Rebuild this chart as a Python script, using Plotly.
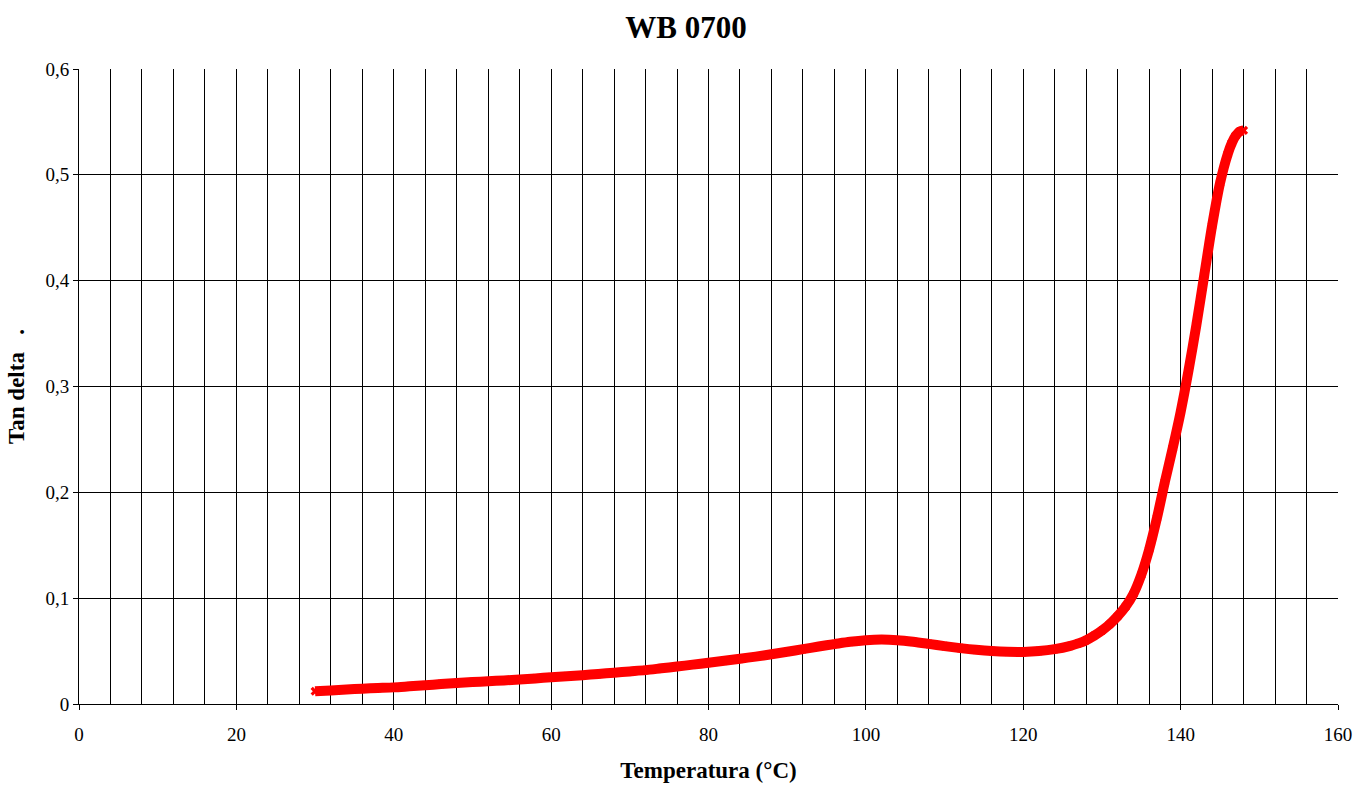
import plotly.graph_objects as go

temperature = [30, 32, 34, 36, 38, 40, 42, 44, 46, 48, 50, 52, 54, 56, 58, 60, 62, 64, 66, 68,
               70, 72, 74, 76, 78, 80, 82, 84, 86, 88, 90, 92, 94, 96, 98, 100, 102, 104, 106,
               108, 110, 112, 114, 116, 118, 120, 122, 124, 126, 127, 128, 129, 130, 131, 132,
               133, 134, 135, 136, 137, 138, 139, 140, 141, 142, 143, 144, 145, 146, 146.5,
               147, 147.5, 148]
tan_delta = [0.0120, 0.0128, 0.0137, 0.0145, 0.0151, 0.0157, 0.0167, 0.0177, 0.0188, 0.0198,
             0.0207, 0.0215, 0.0223, 0.0232, 0.0242, 0.0252, 0.0262, 0.0272, 0.0284, 0.0296,
             0.0308, 0.0320, 0.0337, 0.0354, 0.0372, 0.0390, 0.0408, 0.0428, 0.0448, 0.0470,
             0.0494, 0.0518, 0.0543, 0.0566, 0.0588, 0.0603, 0.0609, 0.0603, 0.0588, 0.0568,
             0.0547, 0.0528, 0.0512, 0.0500, 0.0493, 0.0492, 0.0500, 0.0518, 0.0550, 0.0573,
             0.0603, 0.0645, 0.0695, 0.0755, 0.0830, 0.0920, 0.1040, 0.1220, 0.1460, 0.1760,
             0.2100, 0.2420, 0.2760, 0.3150, 0.3580, 0.4050, 0.4520, 0.4920, 0.5200, 0.5300,
             0.5370, 0.5410, 0.5420]

title_text = "WB 0700"
x_title = "Temperatura (°C)"
y_title = "Tan delta\u00a0\u00a0\u00a0."

fig = go.Figure()
fig.add_trace(go.Scatter(
    x=temperature, y=tan_delta, mode="lines+markers",
    line=dict(color="#ff0000", width=10, shape="spline", smoothing=0.8),
    marker=dict(symbol="x", size=8, color="#ff0000"),
    showlegend=False,
))

serif = "Liberation Serif"
fig.update_layout(
    width=1372, height=785,
    margin=dict(l=79, r=34, t=69, b=81),
    paper_bgcolor="white", plot_bgcolor="white",
    separators=", ",
    font=dict(family=serif, color="black", size=19),
    title=dict(text="<b>" + title_text + "</b>", x=0.5, xanchor="center",
               y=1 - 27 / 785, yanchor="middle", font=dict(size=31, family=serif)),
    showlegend=False,
)
fig.update_xaxes(
    range=[0, 160], dtick=20, tick0=0, automargin=False,
    showgrid=True, gridcolor="black", gridwidth=1,
    minor=dict(dtick=4, showgrid=True, gridcolor="black", gridwidth=1),
    showline=True, linecolor="black", linewidth=1,
    ticks="outside", ticklen=5, tickcolor="black",
    tickfont=dict(size=19, family=serif),
    ticklabelstandoff=8,
    zeroline=False,
    title=dict(text="<b>" + x_title + "</b>", font=dict(size=23, family=serif), standoff=18),
)
fig.update_yaxes(
    range=[0, 0.6], dtick=0.1, tick0=0, automargin=False,
    showgrid=True, gridcolor="black", gridwidth=1,
    showline=True, linecolor="black", linewidth=1,
    ticks="outside", ticklen=5, tickcolor="black",
    tickfont=dict(size=19, family=serif),
    zeroline=False,
    title=dict(text="<b>" + y_title + "</b>", font=dict(size=23, family=serif), standoff=14),
)

fig.write_html("out.html")
